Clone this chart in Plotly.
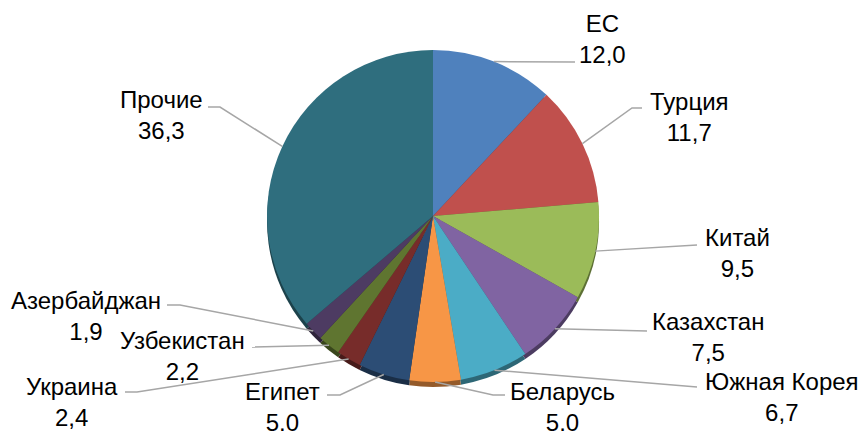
import math
import plotly.graph_objects as go

# ---- data ----
countries = ["ЕС", "Турция", "Китай", "Казахстан", "Южная Корея", "Беларусь",
             "Египет", "Украина", "Узбекистан", "Азербайджан", "Прочие"]
shares = [12.0, 11.7, 9.5, 7.5, 6.7, 5.0, 5.0, 2.4, 2.2, 1.9, 36.3]
value_labels = ["12,0", "11,7", "9,5", "7,5", "6,7", "5.0", "5.0", "2,4", "2,2", "1,9", "36,3"]

# ---- styles ----
colors = ["#4F81BD", "#C0504D", "#9BBB59", "#8064A2", "#4BACC6", "#F79646",
          "#2C4D75", "#772C2A", "#5F7530", "#4D3B62", "#2F6E7E"]
FONT = "Liberation Sans, Arial, sans-serif"

W, H = 864, 439
CX, CY, R = 433, 216, 166     # pie centre / radius in pixels
DEPTH = 5                     # fake 3D depth (px)

# label layout (pixels): text block centre, leader elbow, leader end
label_center = [(602, 39), (689, 117), (737, 253), (708, 337), (782, 397), (562, 407),
                (282, 407), (72, 402), (182, 356), (86, 316), (161, 115)]
leader_elbow = [(575, 62), (632, 108), (697, 245), (647, 331), (697, 387), (493, 395),
                (340, 395), (137, 392), (252, 347), (180, 305), (220, 107)]
leader_end_x = [575, 642, 697, 647, 697, 505, 327, 125, 252, 167, 208]


def px(x):
    return x / W


def py(y):
    return 1 - y / H


def darker(hexcol, f=0.6):
    h = hexcol.lstrip("#")
    r, g, b = (int(h[i:i + 2], 16) for i in (0, 2, 4))
    return "#%02X%02X%02X" % (int(r * f), int(g * f), int(b * f))


fig = go.Figure()

# shadow (side of the disc)
fig.add_trace(go.Pie(
    labels=countries, values=shares, sort=False, direction="clockwise", rotation=0,
    marker=dict(colors=[darker(c) for c in colors], line=dict(width=0)),
    textinfo="none", hoverinfo="skip", showlegend=False,
    domain=dict(x=[px(CX - R), px(CX + R)], y=[py(CY + DEPTH + R), py(CY + DEPTH - R)]),
))
# top surface
fig.add_trace(go.Pie(
    labels=countries, values=shares, sort=False, direction="clockwise", rotation=0,
    marker=dict(colors=colors, line=dict(width=0)),
    textinfo="none", showlegend=False,
    domain=dict(x=[px(CX - R), px(CX + R)], y=[py(CY + R), py(CY - R)]),
))

total = sum(shares)
cum = 0.0
shapes, annotations = [], []
for i, (name, v) in enumerate(zip(countries, shares)):
    theta = math.radians(360 * (cum + v / 2) / total)
    cum += v
    ex = CX + R * math.sin(theta)
    ey = CY - R * math.cos(theta)
    (bx, by), endx = leader_elbow[i], leader_end_x[i]
    path = "M %f,%f L %f,%f L %f,%f" % (px(ex), py(ey), px(bx), py(by), px(endx), py(by))
    shapes.append(dict(type="path", xref="paper", yref="paper", path=path,
                       line=dict(color="#A6A6A6", width=1.5), layer="above"))
    tx, ty = label_center[i]
    annotations.append(dict(
        x=px(tx), y=py(ty), xref="paper", yref="paper", showarrow=False,
        xanchor="center", yanchor="middle", align="center",
        text=f"{name}<br>{value_labels[i]}",
        font=dict(family=FONT, size=24, color="black"),
    ))

fig.update_layout(
    width=W, height=H, margin=dict(l=0, r=0, t=0, b=0),
    paper_bgcolor="white", plot_bgcolor="white",
    shapes=shapes, annotations=annotations, showlegend=False,
)

fig.write_html("out.html", config={"displayModeBar": False},
               post_script="document.body.style.margin='0';")
